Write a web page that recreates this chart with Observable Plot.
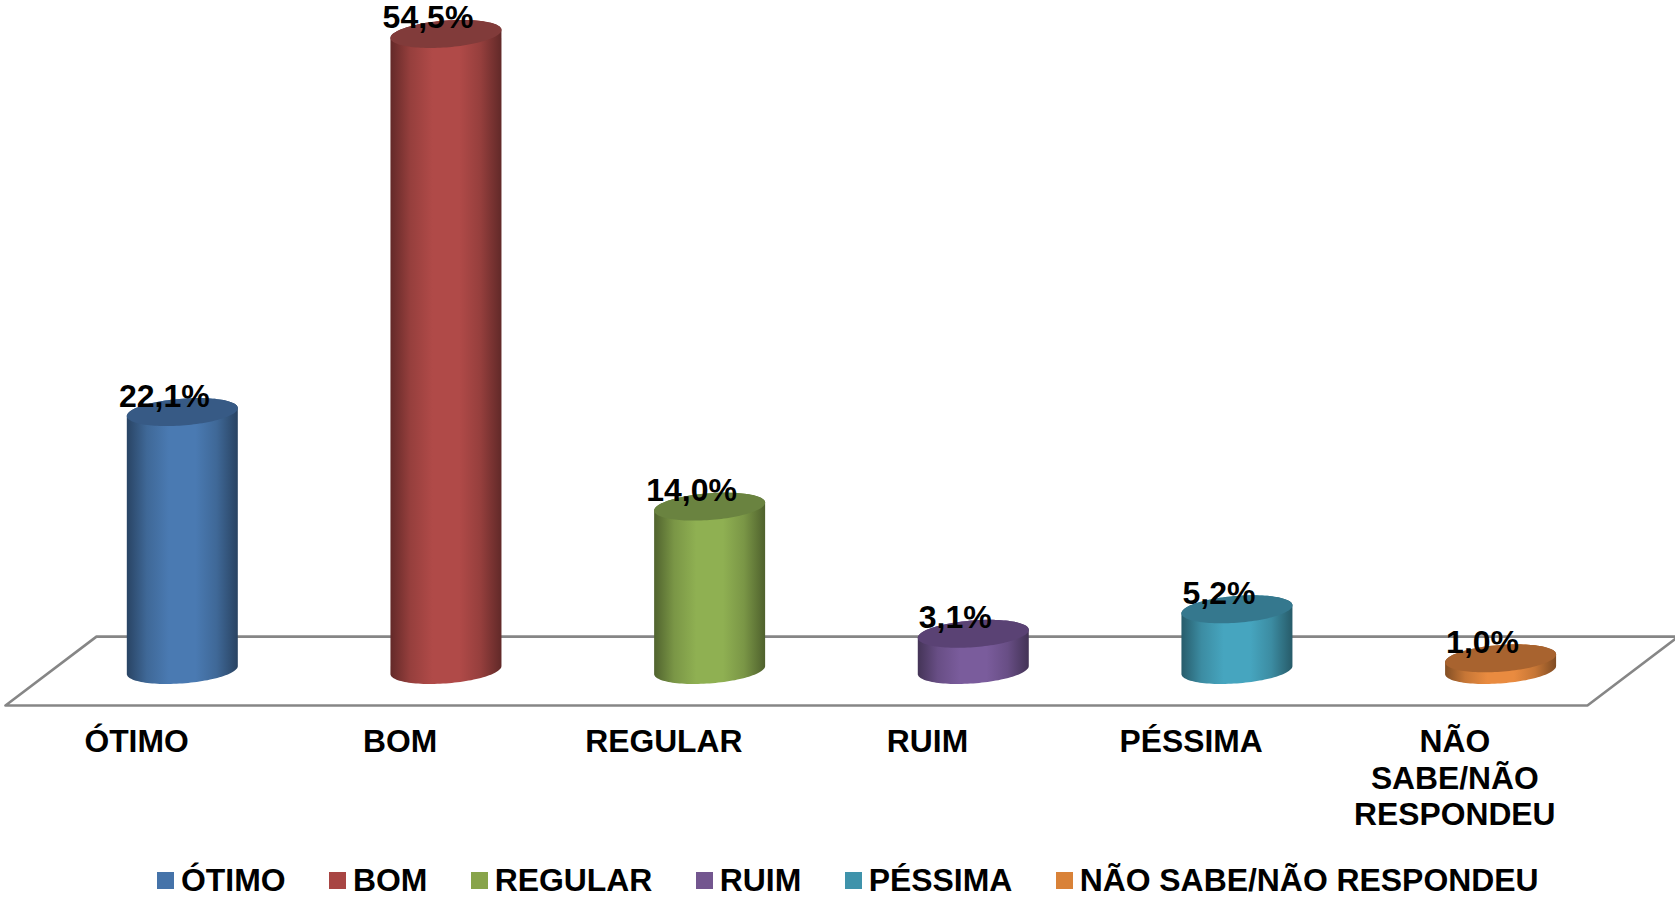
<!DOCTYPE html>
<html>
<head>
<meta charset="utf-8">
<script src="https://cdn.jsdelivr.net/npm/d3@7"></script>
<script src="https://cdn.jsdelivr.net/npm/@observablehq/plot@0.6"></script>
<style>
html,body{margin:0;padding:0;background:#fff;overflow:hidden}
#chart svg{display:block}
#legend{display:flex;height:40px;align-items:center;padding-left:157px;font:bold 31.9px "Liberation Sans",Arial,sans-serif;color:#000;white-space:nowrap}
#legend .item{display:flex;align-items:center;margin-right:43.4px}
#legend i{display:block;width:17px;height:17px;margin-right:7px}
</style>
</head>
<body>
<div id="chart"></div>
<div id="legend"></div>
<script>
const categories = ["ÓTIMO", "BOM", "REGULAR", "RUIM", "PÉSSIMA", "NÃO SABE/NÃO RESPONDEU"];
const axisLabels = ["ÓTIMO", "BOM", "REGULAR", "RUIM", "PÉSSIMA", "NÃO\nSABE/NÃO\nRESPONDEU"];
const values = [22.1, 54.5, 14.0, 3.1, 5.2, 1.0];
const valueLabels = ["22,1%", "54,5%", "14,0%", "3,1%", "5,2%", "1,0%"];
const bodyColors = ["#4a7ab2", "#b04a48", "#8fb052", "#7a5c9c", "#46a5bf", "#e98b40"];
const swatchColors = ["#4573a9", "#a84543", "#88a44a", "#73568f", "#3f93ab", "#d98238"];
const capColors = ["#375a85", "#813b3a", "#6a8340", "#5a4274", "#35788e", "#a8632f"];

// floor plane and cylinder proportions, in axis units
const floorFront = -3, floorBack = 2.9, floorDepth = 0.345, xEnd = 6.334;
const midDepth = 0.1725, halfWidth = 0.2105, capTilt = 0.343, capHalf = 1.15;

const font = '"Liberation Sans", Arial, sans-serif';
const cx = i => i + 0.5 + midDepth;

// profile of a tilted ellipse, in axis units
const steps = d3.range(0, 61).map(k => Math.cos(Math.PI * (1 - k / 60)));
const edge = (c, u, sign) => c + capTilt * u + sign * capHalf * Math.sqrt(Math.max(0, 1 - u * u));

const bodyMark = i => Plot.area(steps, {
  x1: u => cx(i) + u * halfWidth,
  y1: u => edge(0, u, -1),
  y2: u => edge(values[i], u, 1),
  fill: `url(#body${i})`
});
const capMark = i => Plot.area(steps, {
  x1: u => cx(i) + u * halfWidth,
  y1: u => edge(values[i], u, -1),
  y2: u => edge(values[i], u, 1),
  fill: capColors[i]
});

function gradients() {
  const defs = d3.create("svg:defs");
  bodyColors.forEach((c, i) => {
    const g = defs.append("linearGradient").attr("id", `body${i}`);
    const shade = k => { const r = d3.rgb(c); return d3.rgb(r.r * k, r.g * k, r.b * k).formatHex(); };
    [[0, .56], [.18, .85], [.38, 1], [.62, 1], [.81, .85], [1, .55]].forEach(([o, k]) =>
      g.append("stop").attr("offset", o).attr("stop-color", shade(k)));
  });
  return defs.node();
}

const floorCorners = [
  [0, floorFront], [6, floorFront], [6 + floorDepth, floorBack], [floorDepth, floorBack], [0, floorFront]
];

const plot = Plot.plot({
  width: 1675,
  height: 860,
  marginTop: 0, marginRight: 0, marginLeft: 5, marginBottom: 155,
  style: {fontFamily: font, background: "#fff"},
  x: {type: "linear", domain: [0, xEnd], range: [5, 1675]},
  y: {domain: [floorFront, 57.41], range: [705, 0], axis: null},
  marks: [
    gradients,
    Plot.line(floorCorners, {x: d => d[0], y: d => d[1], stroke: "#868686", strokeWidth: 2.6, strokeLinejoin: "miter"}),
    ...values.flatMap((v, i) => [bodyMark(i), capMark(i)]),
    Plot.text(values, {
      x: (v, i) => cx(i), y: v => v, text: (v, i) => valueLabels[i],
      dx: -18.5, dy: -6, lineAnchor: "bottom",
      fontSize: 32, fontWeight: "bold", fill: "#000"
    }),
    Plot.axisX({
      ticks: axisLabels.map((d, i) => i + 0.5),
      tickFormat: v => axisLabels[Math.floor(v)],
      tickSize: 0, tickPadding: 20,
      fontSize: 31.8, fontWeight: "bold", lineHeight: 1.16, color: "#000", label: null,
      dx: -0.8
    })
  ]
});
document.getElementById("chart").append(plot);

const legend = d3.select("#legend");
categories.forEach((c, i) => {
  const item = legend.append("div").attr("class", "item");
  item.append("i").style("background", swatchColors[i]);
  item.append("span").text(c);
});
</script>
</body>
</html>
